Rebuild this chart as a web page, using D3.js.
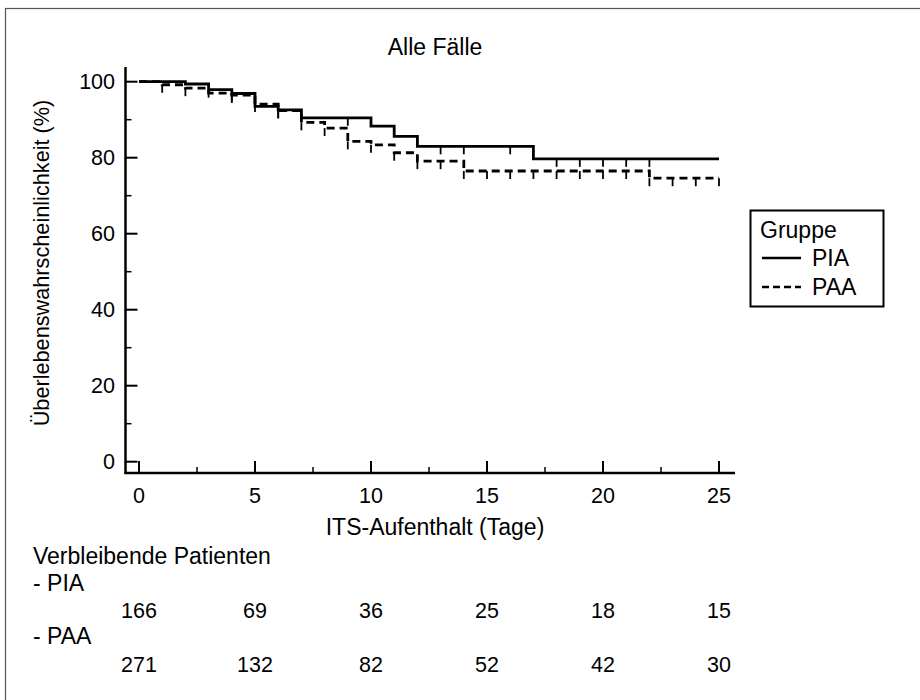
<!DOCTYPE html>
<html>
<head>
<meta charset="utf-8">
<script src="https://cdn.jsdelivr.net/npm/d3@7/dist/d3.min.js"></script>
<style>
  html, body { margin: 0; padding: 0; background: #fff; }
  svg { display: block; font-family: "Liberation Sans", Arial, sans-serif; }
</style>
</head>
<body>
<svg id="chart" width="920" height="700"></svg>
<script>
// Kaplan-Meier step data (day, survival % after the step)
const piaTime = [0, 2, 3, 4, 5, 6, 7, 10, 11, 12, 17, 25];
const piaSurv = [100, 99.4, 97.9, 96.9, 93.5, 92.6, 90.5, 88.3, 85.6, 83.0, 79.7, 79.7];
const paaTime = [0, 1, 2, 3, 4, 5, 6, 7, 8, 9, 10, 11, 12, 14, 22, 25];
const paaSurv = [100, 99.2, 98.3, 97.0, 96.5, 94.1, 92.4, 89.3, 87.8, 84.3, 83.4, 81.3, 79.1, 76.5, 74.6, 74.6];

// censored observations (days)
const piaCensor = [3, 4, 6, 9, 13, 14, 16, 18, 19, 20, 21, 22];
const paaCensor = [1, 2, 4, 5, 6, 7, 8, 9, 10, 11, 12, 13, 14, 15, 16, 17, 18, 19, 20, 21, 22, 23, 24, 25];

// number at risk
const riskDays = [0, 5, 10, 15, 20, 25];
const piaRisk = [166, 69, 36, 25, 18, 15];
const paaRisk = [271, 132, 82, 52, 42, 30];

const xTicks = [0, 5, 10, 15, 20, 25];
const xMinor = [2.5, 7.5, 12.5, 17.5, 22.5];
const yTicks = [0, 20, 40, 60, 80, 100];
const yMinor = [10, 30, 50, 70, 90];

const groups = [
  { name: "PIA", time: piaTime, surv: piaSurv, censor: piaCensor, dash: null },
  { name: "PAA", time: paaTime, surv: paaSurv, censor: paaCensor, dash: "8,5" }
];

const wordSize = 23, numSize = 21.5;

const svg = d3.select("#chart");
const x = d3.scaleLinear().domain([0, 25]).range([139, 719]);
const y = d3.scaleLinear().domain([0, 100]).range([461.7, 81.7]);

const axisX0 = 125.5, axisY0 = 473;

// outer frame (runs off the right and bottom edges)
svg.append("rect")
  .attr("x", 5.5).attr("y", 8.5).attr("width", 930).attr("height", 710)
  .attr("fill", "none").attr("stroke", "#555").attr("stroke-width", 1.2);

// title
svg.append("text").attr("x", 435).attr("y", 55).attr("text-anchor", "middle")
  .attr("font-size", wordSize).text("Alle Fälle");

// y axis
const gy = svg.append("g");
gy.append("line").attr("x1", axisX0).attr("x2", axisX0).attr("y1", 67).attr("y2", axisY0 + 1)
  .attr("stroke", "#000").attr("stroke-width", 2.5);
gy.selectAll(".ymaj").data(yTicks).join("line")
  .attr("x1", axisX0).attr("x2", axisX0 + 12)
  .attr("y1", d => y(d)).attr("y2", d => y(d))
  .attr("stroke", "#000").attr("stroke-width", 2);
gy.selectAll(".ymin").data(yMinor).join("line")
  .attr("class", "ymin")
  .attr("x1", axisX0).attr("x2", axisX0 + 6)
  .attr("y1", d => y(d)).attr("y2", d => y(d))
  .attr("stroke", "#000").attr("stroke-width", 1.5);
gy.selectAll(".ylab").data(yTicks).join("text")
  .attr("class", "ylab")
  .attr("x", 115).attr("y", d => y(d) + 7.7)
  .attr("text-anchor", "end").attr("font-size", numSize)
  .text(d => d);

svg.append("text")
  .attr("transform", "translate(49,263) rotate(-90)")
  .attr("text-anchor", "middle").attr("font-size", 21.7)
  .text("Überlebenswahrscheinlichkeit (%)");

// x axis
const gx = svg.append("g");
gx.append("line").attr("x1", axisX0 - 1).attr("x2", 735).attr("y1", axisY0).attr("y2", axisY0)
  .attr("stroke", "#000").attr("stroke-width", 2.5);
gx.selectAll(".xmaj").data(xTicks).join("line")
  .attr("class", "xmaj")
  .attr("x1", d => x(d)).attr("x2", d => x(d))
  .attr("y1", axisY0).attr("y2", axisY0 - 12)
  .attr("stroke", "#000").attr("stroke-width", 2);
gx.selectAll(".xmin").data(xMinor).join("line")
  .attr("class", "xmin")
  .attr("x1", d => x(d)).attr("x2", d => x(d))
  .attr("y1", axisY0).attr("y2", axisY0 - 6)
  .attr("stroke", "#000").attr("stroke-width", 1.5);
gx.selectAll(".xlab").data(xTicks).join("text")
  .attr("class", "xlab")
  .attr("x", d => x(d)).attr("y", 503)
  .attr("text-anchor", "middle").attr("font-size", numSize)
  .text(d => d);

svg.append("text").attr("x", 435).attr("y", 535).attr("text-anchor", "middle")
  .attr("font-size", wordSize).text("ITS-Aufenthalt (Tage)");

// survival curves
const line = d3.line().x(d => x(d[0])).y(d => y(d[1])).curve(d3.curveStepAfter);
function survAt(g, t) {
  let v = g.surv[0];
  g.time.forEach((tt, i) => { if (tt <= t) v = g.surv[i]; });
  return v;
}
groups.forEach(g => {
  const pts = g.time.map((t, i) => [t, g.surv[i]]);
  svg.append("path").attr("d", line(pts))
    .attr("fill", "none").attr("stroke", "#000").attr("stroke-width", 2.8)
    .attr("stroke-dasharray", g.dash);
  svg.append("g").selectAll("line").data(g.censor).join("line")
    .attr("x1", d => x(d)).attr("x2", d => x(d))
    .attr("y1", d => y(survAt(g, d))).attr("y2", d => y(survAt(g, d)) + 8)
    .attr("stroke", "#000").attr("stroke-width", 1.8);
});

// legend
const lg = svg.append("g");
lg.append("rect").attr("x", 750.5).attr("y", 210.5).attr("width", 133).attr("height", 96)
  .attr("fill", "#fff").attr("stroke", "#000").attr("stroke-width", 2);
lg.append("text").attr("x", 760).attr("y", 238).attr("font-size", wordSize).text("Gruppe");
groups.forEach((g, i) => {
  const ly = 258 + i * 29;
  lg.append("line").attr("x1", 762).attr("x2", 801).attr("y1", ly).attr("y2", ly)
    .attr("stroke", "#000").attr("stroke-width", 2.4).attr("stroke-dasharray", g.dash ? "7,4" : null);
  lg.append("text").attr("x", 812).attr("y", ly + 8).attr("font-size", wordSize).text(g.name);
});

// number-at-risk table
const rt = svg.append("g");
rt.append("text").attr("x", 33).attr("y", 564).attr("font-size", wordSize).text("Verbleibende Patienten");
rt.append("text").attr("x", 33).attr("y", 591).attr("font-size", wordSize).text("- PIA");
rt.selectAll(".rpia").data(piaRisk).join("text").attr("class", "rpia")
  .attr("x", (d, i) => x(riskDays[i])).attr("y", 618).attr("text-anchor", "middle")
  .attr("font-size", numSize).text(d => d);
rt.append("text").attr("x", 33).attr("y", 644).attr("font-size", wordSize).text("- PAA");
rt.selectAll(".rpaa").data(paaRisk).join("text").attr("class", "rpaa")
  .attr("x", (d, i) => x(riskDays[i])).attr("y", 672).attr("text-anchor", "middle")
  .attr("font-size", numSize).text(d => d);
</script>
</body>
</html>
